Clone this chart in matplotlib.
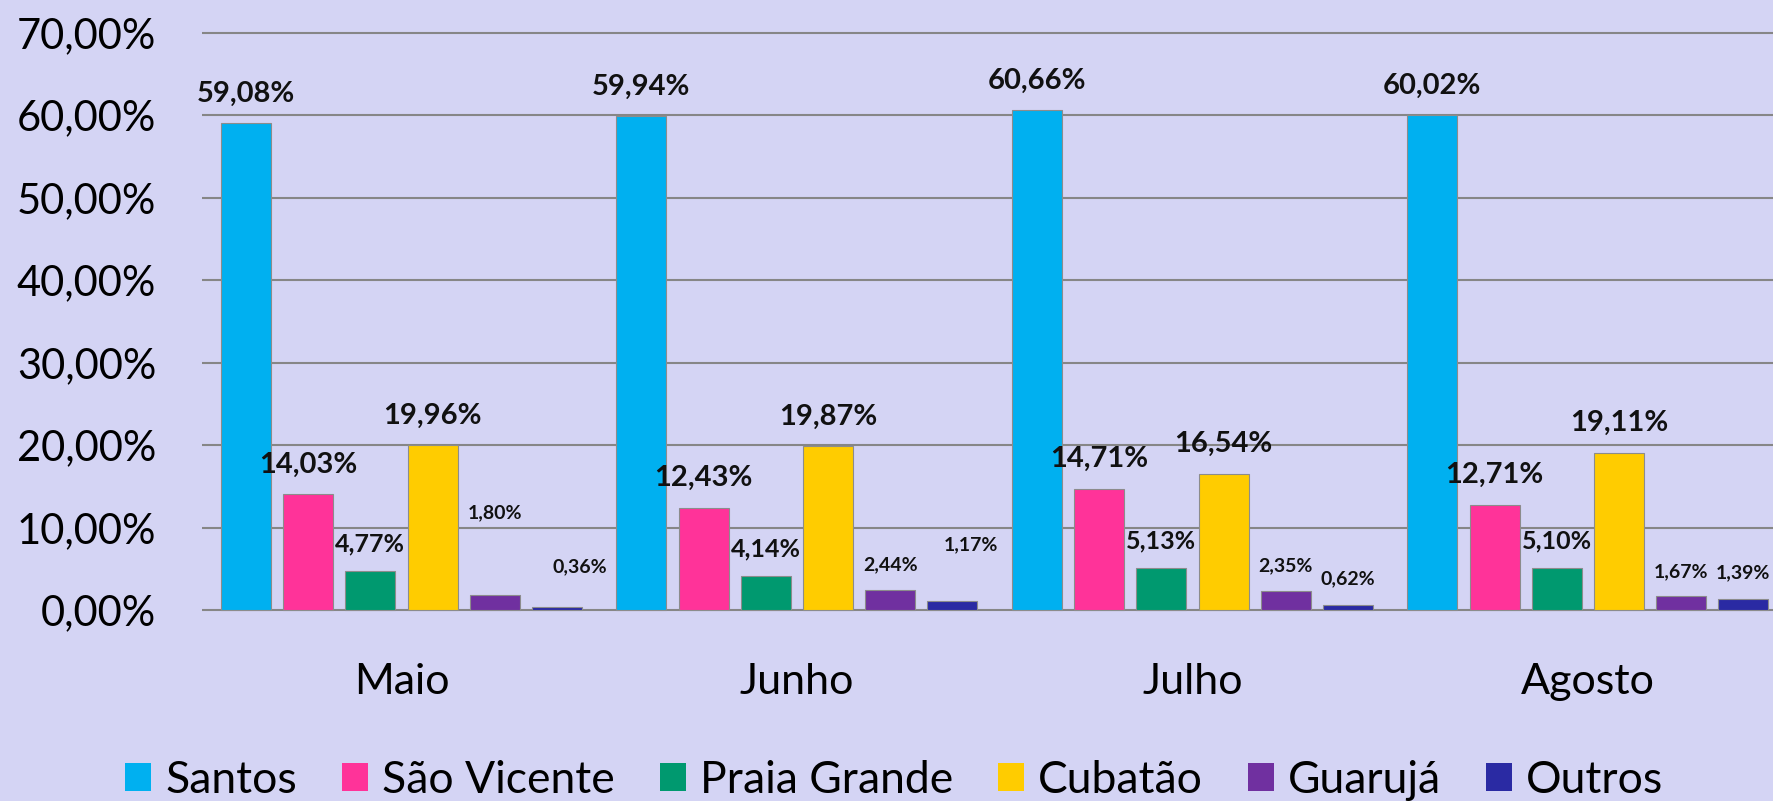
import matplotlib
matplotlib.use("Agg")
import matplotlib.pyplot as plt
import numpy as np

# ---- data ----
months = ["Maio", "Junho", "Julho", "Agosto"]
series = ["Santos", "São Vicente", "Praia Grande", "Cubatão", "Guarujá", "Outros"]
santos = [59.08, 59.94, 60.66, 60.02]
sao_vicente = [14.03, 12.43, 14.71, 12.71]
praia_grande = [4.77, 4.14, 5.13, 5.10]
cubatao = [19.96, 19.87, 16.54, 19.11]
guaruja = [1.80, 2.44, 2.35, 1.67]
outros = [0.36, 1.17, 0.62, 1.39]
yticks = [0, 10, 20, 30, 40, 50, 60, 70]

values = [santos, sao_vicente, praia_grande, cubatao, guaruja, outros]

# ---- style ----
colors = ["#00B0F0", "#FF3399", "#00996F", "#FFCC00", "#7030A0", "#2A2AA3"]
bg = "#D4D4F4"
label_sizes = [21, 21, 18, 21, 14, 14]
# label offsets in pixels (dx, dy above bar top), per series per month
default_dy = [29, 30, 27, 29.5, 25, 26]
special = {(4, 0): (0, 83), (5, 0): (23, 40), (5, 1): (18, 56)}

plt.rcParams['font.family'] = ['Lato', 'DejaVu Sans']

fig = plt.figure(figsize=(17.73, 8.01), dpi=100, facecolor=bg)
ax = fig.add_axes([202/1773, 0.2331, 1 - 202/1773, 0.7467])
ax.set_facecolor(bg)

n = len(series)
step = 0.1573
width = 0.1264
x = np.arange(len(months))
px2pt = 0.72

for j, (name, vals, col) in enumerate(zip(series, values, colors)):
    xs = x + (j - (n - 1) / 2) * step
    ax.bar(xs, vals, width=width, color=col, edgecolor="#8C8C8C",
           linewidth=0.8, label=name, zorder=3)
    for i, (xx, v) in enumerate(zip(xs, vals)):
        dx, dy = special.get((j, i), (0, default_dy[j]))
        txt = f"{v:.2f}%".replace(".", ",")
        ax.annotate(txt, (xx, v), xytext=(dx * px2pt, dy * px2pt),
                    textcoords="offset points", ha="center", va="center",
                    fontsize=label_sizes[j], fontweight="bold", color="#111111",
                    zorder=4)

ax.set_xlim(-0.5044, 3.468)
ax.set_ylim(-0.5, 72)
ax.set_yticks(yticks)
ax.set_yticklabels([f"{t:.2f}%".replace(".", ",") for t in yticks], fontsize=30)
ax.set_xticks(x)
ax.set_xticklabels(months, fontsize=31)
ax.tick_params(axis="y", length=0, pad=33)
ax.tick_params(axis="x", length=0, pad=35)
ax.grid(axis="y", color="#868686", linewidth=1.5, zorder=1)
ax.set_axisbelow(True)
for s in ax.spines.values():
    s.set_visible(False)

LF = 32
F = LF / 0.72  # font size in px
leg = ax.legend(ncol=6, loc="center", bbox_to_anchor=(894.5 / 1773, 0.026),
                bbox_transform=fig.transFigure, frameon=False, fontsize=LF,
                handlelength=26 / F, handleheight=26 / F, handletextpad=14 / F,
                columnspacing=45 / F, borderpad=0, borderaxespad=0)
for h in leg.legend_handles:
    h.set_edgecolor("none")

fig.savefig("out.png", dpi=100, facecolor=bg)
